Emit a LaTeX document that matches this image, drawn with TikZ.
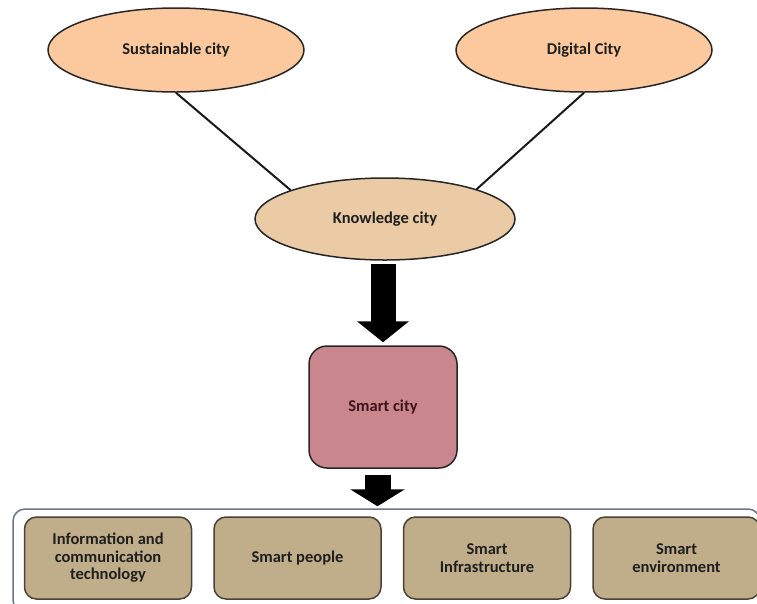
\documentclass[tikz,border=0pt]{standalone}
\usepackage{fontspec}
\setmainfont{Carlito}
\usetikzlibrary{positioning,arrows.meta,shapes.geometric}

\definecolor{peach}{HTML}{FBC99D}
\definecolor{knowfill}{HTML}{EACBA6}
\definecolor{smartfill}{HTML}{C9878D}
\definecolor{smarttext}{HTML}{3D1419}
\definecolor{partfill}{HTML}{C0AE8A}
\definecolor{partedge}{HTML}{4A4238}
\definecolor{groupedge}{HTML}{6B7585}

\begin{document}
\begin{tikzpicture}[
    x=1pt, y=-1pt,
    node distance=21pt,
    every node/.style={font=\fontsize{16.5}{17.5}\selectfont\bfseries, align=center, text=black!88},
    cityoval/.style={
        ellipse,
        draw=black!85,
        line width=1.5pt,
        fill=peach,
        minimum width=256pt,
        minimum height=84pt
    },
    smartbox/.style={
        draw=black!85,
        line width=1.5pt,
        rounded corners=18pt,
        fill=smartfill,
        text=smarttext,
        minimum width=148pt,
        minimum height=122pt
    },
    groupbox/.style={
        draw=groupedge,
        line width=1.5pt,
        rounded corners=12pt,
        minimum width=747pt,
        minimum height=103pt
    },
    partbox/.style={
        draw=partedge,
        line width=1.5pt,
        rounded corners=12pt,
        fill=partfill,
        minimum width=167pt,
        minimum height=82pt
    },
    link/.style={draw=black!90, line width=2pt},
    bigarrow/.style={draw=black, line width=25pt, -{Triangle[length=21pt, width=51pt]}}
]
\clip (0,0) rectangle (757,603);

\node[cityoval] (sust) at (176,50) {Sustainable city};
\node[cityoval] (digital) at (584,50) {Digital City};
\node[cityoval, fill=knowfill, minimum width=260pt, minimum height=82pt] (know) at (385,219) {Knowledge city};
\node[smartbox] (smart) at (383,407) {Smart city};

\node[groupbox] (group) at (386.5,560.5) {};
\node[partbox] (ict) at (108,558) {Information and\\communication\\technology};
\node[partbox, right=of ict] (people) {Smart people};
\node[partbox, right=of people] (infra) {Smart\\Infrastructure};
\node[partbox, right=of infra] (env) {Smart\\environment};

\draw[link] (sust.south) -- (know.163);
\draw[link] (digital.south) -- (know.18);
\draw[bigarrow, shorten <=3pt, shorten >=3pt] ([xshift=-2pt]know.south) -- ([xshift=-2pt]know.south |- smart.north);
\draw[bigarrow, line width=26pt, -{Triangle[length=17pt, width=54pt]}, shorten <=6pt, shorten >=2pt]
    ([xshift=-5.5pt]smart.south) -- ([xshift=-5.5pt]smart.south |- group.north);
\end{tikzpicture}
\end{document}
